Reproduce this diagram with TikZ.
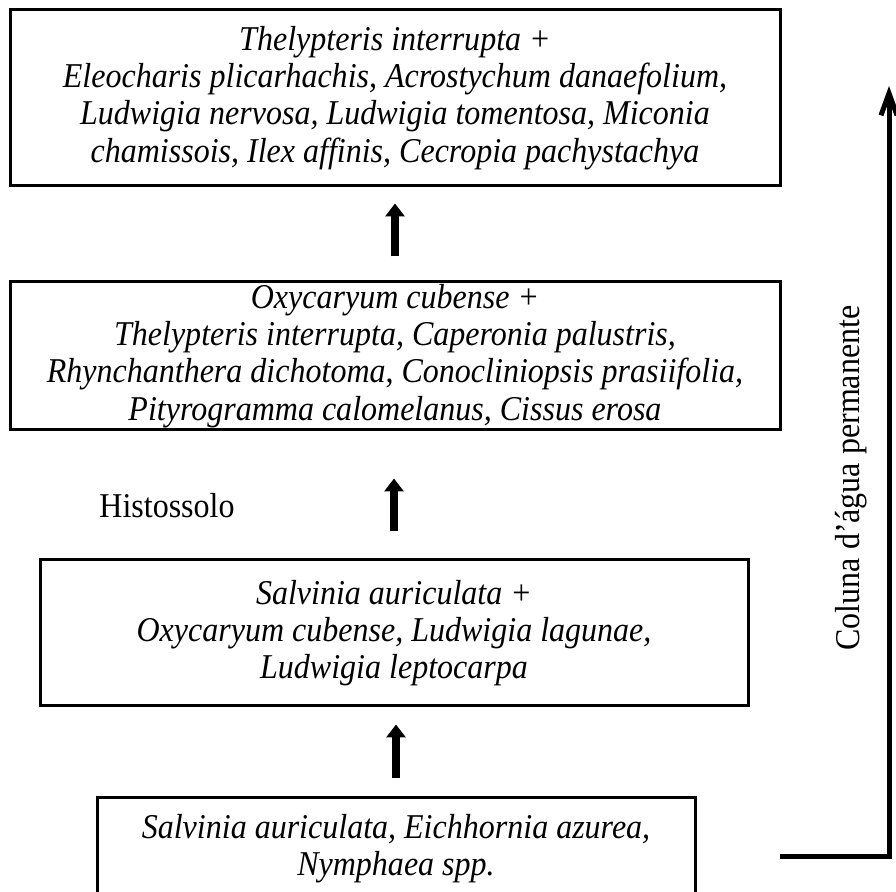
\documentclass[tikz,border=0pt]{standalone}
\usepackage{fontspec}
\setmainfont{Liberation Serif}[FakeStretch=0.92]
\usetikzlibrary{arrows.meta}

\begin{document}
\begin{tikzpicture}[
                x=0.5pt, y=-0.5pt,
                box/.style={rectangle, draw=black, line width=1.5pt, fill=white, text=black, align=center, inner sep=0pt, font=\fontsize{17.4}{18.6}\selectfont\itshape},
                label/.style={text=black, inner sep=0pt, font=\fontsize{17.4}{18.6}\selectfont},
                arrow/.style={line width=4pt, -{Triangle[length=6.5pt, width=9.5pt]}},
                waterline/.style={line width=2.5pt, -{Straight Barb[length=11pt, width=8pt]}}
            ]
                \useasboundingbox (0,0) rectangle (896,892);
                \clip (0,0) rectangle (896,892);

                \node (b1) [box, minimum width=385pt, minimum height=88pt] at (395,98) {Thelypteris interrupta +\\Eleocharis plicarhachis, Acrostychum danaefolium,\\Ludwigia nervosa, Ludwigia tomentosa, Miconia\\chamissois, Ilex affinis, Cecropia pachystachya};
                \node (b2) [box, minimum width=385pt, minimum height=74pt] at (395,356) {Oxycaryum cubense +\\Thelypteris interrupta, Caperonia palustris,\\Rhynchanthera dichotoma\textup{,} Conocliniopsis prasiifolia,\\Pityrogramma calomelanus, Cissus erosa};
                \node (b3) [box, minimum width=354pt, minimum height=73pt] at (394,633) {Salvinia auriculata +\\Oxycaryum cubense, Ludwigia lagunae,\\Ludwigia leptocarpa};
                \node (b4) [box, minimum width=299pt, minimum height=51pt] at (396,849) {Salvinia auriculata, Eichhornia azurea,\\Nymphaea spp.};

                \node (solo) [label] at (167,506) {Histossolo};
                \node (agua) [label, rotate=90] at (851,478) {Coluna d’água permanente};

                \draw [arrow, shorten <=12pt, shorten >=8pt] (b2.north) -- (b1.south);
                \draw [arrow, shorten <=13.5pt, shorten >=23.5pt] (b3.north) -- (b3.north |- b2.south);
                \draw [arrow, shorten <=9pt, shorten >=8.5pt] (b4.north) -- (b4.north |- b3.south);

                \coordinate (wbase) at (780,857);
                \coordinate (wtop) at (889,86);
                \draw [waterline] (wbase) -- (wbase -| wtop) -- (wtop);
            \end{tikzpicture}
\end{document}
